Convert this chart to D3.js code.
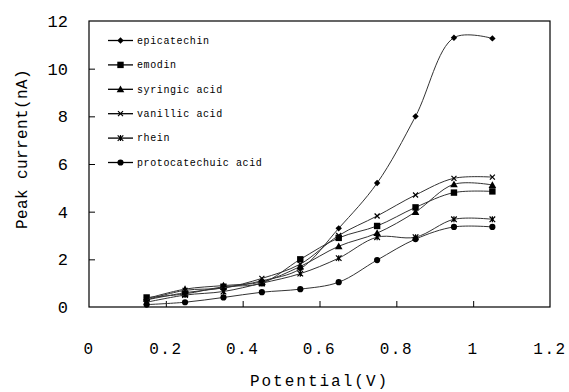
<!DOCTYPE html>
<html>
<head>
<meta charset="utf-8">
<script src="https://cdn.jsdelivr.net/npm/d3@7"></script>
<style>
  body { margin: 0; background: #fff; }
  text { font-family: "Liberation Mono", "DejaVu Sans Mono", monospace; fill: #000; }
</style>
</head>
<body>
<div id="chart"></div>
<script>
// potentials (V)
const potentials = [0.15, 0.25, 0.35, 0.45, 0.55, 0.65, 0.75, 0.85, 0.95, 1.05];

// peak currents (nA)
const epicatechin   = [0.3, 0.6, 0.8, 1.1, 1.6, 3.3, 5.2, 8.0, 11.3, 11.27];
const emodin        = [0.4, 0.55, 0.85, 1.0, 2.0, 2.9, 3.4, 4.18, 4.8, 4.85];
const syringicAcid  = [0.35, 0.75, 0.9, 1.05, 1.7, 2.55, 3.1, 3.99, 5.15, 5.12];
const vanillicAcid  = [0.3, 0.7, 0.8, 1.2, 1.8, 3.0, 3.82, 4.7, 5.4, 5.45];
const rhein         = [0.2, 0.5, 0.65, 1.0, 1.4, 2.05, 2.93, 2.93, 3.68, 3.68];
const protocatechuic = [0.1, 0.2, 0.4, 0.62, 0.75, 1.04, 1.97, 2.85, 3.36, 3.36];

const seriesNames = ["epicatechin", "emodin", "syringic acid", "vanillic acid", "rhein", "protocatechuic acid"];
const seriesValues = [epicatechin, emodin, syringicAcid, vanillicAcid, rhein, protocatechuic];
const markerTypes = ["diamond", "square", "triangle", "x", "star", "circle"];

const xTicks = [0, 0.2, 0.4, 0.6, 0.8, 1, 1.2];
const yTicks = [0, 2, 4, 6, 8, 10, 12];

const width = 569, height = 392;
const plotLeft = 89, plotRight = 550, plotTop = 21, plotBottom = 307;

const svg = d3.select("#chart").append("svg")
    .attr("width", width)
    .attr("height", height);

const x = d3.scaleLinear().domain([0, 1.2]).range([plotLeft, plotRight]);
const y = d3.scaleLinear().domain([0, 12]).range([plotBottom, plotTop]);

// frame
svg.append("rect")
    .attr("x", plotLeft).attr("y", plotTop)
    .attr("width", plotRight - plotLeft).attr("height", plotBottom - plotTop)
    .attr("fill", "none").attr("stroke", "#000").attr("stroke-width", 1.2);

// inward ticks
svg.append("g")
    .attr("transform", `translate(0,${plotBottom})`)
    .call(d3.axisBottom(x).tickValues(xTicks.slice(1, -1)).tickSize(-6).tickFormat(""))
    .call(g => g.select(".domain").remove())
    .call(g => g.selectAll("line").attr("stroke", "#000"));

svg.append("g")
    .attr("transform", `translate(${plotLeft},0)`)
    .call(d3.axisLeft(y).tickValues(yTicks.slice(1, -1)).tickSize(-6).tickFormat(""))
    .call(g => g.select(".domain").remove())
    .call(g => g.selectAll("line").attr("stroke", "#000"));

// tick labels
svg.append("g").selectAll("text")
    .data(xTicks)
    .enter().append("text")
    .attr("x", d => x(d))
    .attr("y", 354)
    .attr("text-anchor", "middle")
    .style("font-size", "16px")
    .style("letter-spacing", "1.5px")
    .text(d => d === 0 || d === 1 ? String(d) : d3.format(".1f")(d));

svg.append("g").selectAll("text")
    .data(yTicks)
    .enter().append("text")
    .attr("x", 68)
    .attr("y", d => y(d))
    .attr("dy", "0.36em")
    .attr("text-anchor", "end")
    .style("font-size", "17px")
    .text(d => d);

// axis titles
svg.append("text")
    .attr("x", (plotLeft + plotRight) / 2)
    .attr("y", 386)
    .attr("text-anchor", "middle")
    .style("font-size", "16px")
    .style("letter-spacing", "2px")
    .text("Potential(V)");

svg.append("text")
    .attr("transform", "translate(27,149) rotate(-90)")
    .attr("text-anchor", "middle")
    .style("font-size", "16px")
    .style("letter-spacing", "0.4px")
    .text("Peak current(nA)");

// markers
function drawMarker(g, type, cx, cy) {
    const c = "#000";
    if (type === "diamond") {
        g.append("path").attr("d", `M${cx},${cy - 3.2}L${cx + 3.2},${cy}L${cx},${cy + 3.2}L${cx - 3.2},${cy}Z`).attr("fill", c);
    } else if (type === "square") {
        g.append("rect").attr("x", cx - 3.2).attr("y", cy - 3.2).attr("width", 6.4).attr("height", 6.4).attr("fill", c);
    } else if (type === "triangle") {
        g.append("path").attr("d", `M${cx},${cy - 3.8}L${cx + 3.8},${cy + 3}L${cx - 3.8},${cy + 3}Z`).attr("fill", c);
    } else if (type === "x") {
        g.append("path").attr("d", `M${cx - 2.5},${cy - 2.5}L${cx + 2.5},${cy + 2.5}M${cx - 2.5},${cy + 2.5}L${cx + 2.5},${cy - 2.5}`)
            .attr("stroke", c).attr("stroke-width", 1.2);
    } else if (type === "star") {
        g.append("path").attr("d", `M${cx - 2.8},${cy - 2.8}L${cx + 2.8},${cy + 2.8}M${cx - 2.8},${cy + 2.8}L${cx + 2.8},${cy - 2.8}M${cx},${cy - 3}L${cx},${cy + 3}`)
            .attr("stroke", c).attr("stroke-width", 1.2);
        g.append("circle").attr("cx", cx).attr("cy", cy).attr("r", 1.3).attr("fill", c);
    } else {
        g.append("circle").attr("cx", cx).attr("cy", cy).attr("r", 3.1).attr("fill", c);
    }
}

const line = d3.line()
    .x((d, i) => x(potentials[i]))
    .y(d => y(d))
    .curve(d3.curveCatmullRom);

seriesValues.forEach((vals, k) => {
    const g = svg.append("g");
    g.append("path")
        .attr("d", line(vals))
        .attr("fill", "none")
        .attr("stroke", "#333")
        .attr("stroke-width", 1);
    vals.forEach((v, i) => drawMarker(g, markerTypes[k], x(potentials[i]), y(v)));
});

// legend
const legend = svg.append("g");
seriesNames.forEach((name, k) => {
    const ly = 40.5 + k * 24.4;
    legend.append("line")
        .attr("x1", 108).attr("x2", 133)
        .attr("y1", ly).attr("y2", ly)
        .attr("stroke", "#000").attr("stroke-width", 1.3);
    drawMarker(legend, markerTypes[k], 120.5, ly);
    legend.append("text")
        .attr("x", 137)
        .attr("y", ly)
        .attr("dy", "0.32em")
        .style("font-size", "10px")
        .style("letter-spacing", "0.6px")
        .text(name);
});
</script>
</body>
</html>
